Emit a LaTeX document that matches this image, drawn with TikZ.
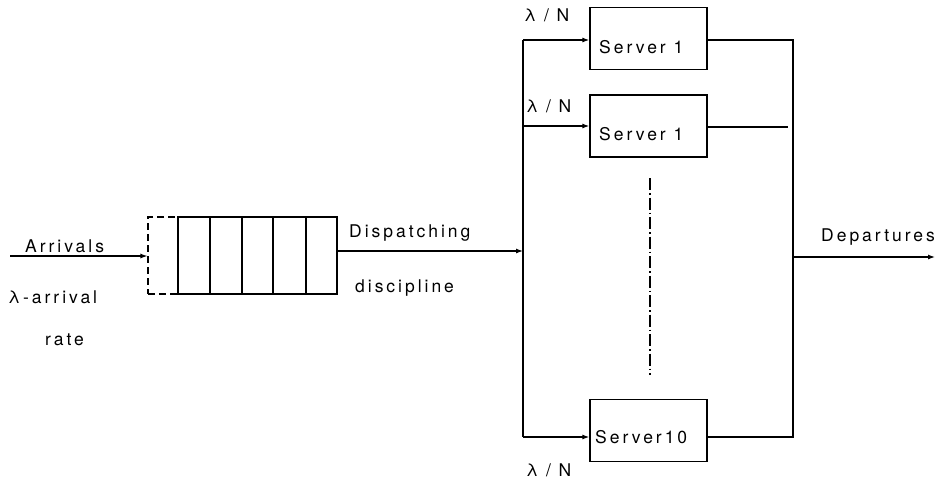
\documentclass[tikz,border=0pt]{standalone}
\usepackage{fontspec}
\setmainfont[LetterSpace=17]{TeX Gyre Heros}
\usetikzlibrary{arrows.meta}
\begin{document}
\begin{tikzpicture}[x=1pt,y=-1pt,
  every node/.style={font=\fontsize{17.5}{19}\selectfont},
  srv/.style={draw,line width=1.3pt,minimum width=117pt,minimum height=62pt,inner sep=0pt},
  wire/.style={line width=1.2pt},
  arr/.style={wire,-{Latex[length=7pt,width=5pt]}},
  lbl/.style={inner sep=0pt,anchor=west}]
\useasboundingbox (0,0) rectangle (936,479);
% queue
\node[draw,dash pattern=on 7pt off 4pt,line width=1.1pt,minimum width=30pt,minimum height=77pt,inner sep=0pt] (qd) at (163,255.5) {};
\node[draw,line width=1.3pt,minimum width=159pt,minimum height=77pt,inner sep=0pt] (q) at (257.5,255.5) {};
\foreach \x in {210,242,273,306}
  \draw[line width=1.3pt] (\x,217) -- (\x,294);
% servers
\node[srv] (s1) at (648.5,38.5) {};
\node[srv] (s2) at (648.5,126) {};
\node[srv] (s10) at (648.5,430.5) {};
\node[lbl] (t1) at (599,47) {Server 1};
\node[lbl] (t2) at (599,134) {Server 1};
\node[lbl] (t10) at (595,437) {Server10};
% coordinates
\coordinate (in) at (10,256);
\coordinate (bt) at (523,40);
\coordinate (bm) at (523,251);
\coordinate (bb) at (523,437);
\coordinate (rt) at (793,40);
\coordinate (rm) at (793,257);
\coordinate (rb) at (793,437);
\coordinate (s2o) at (788,127);
\coordinate (out) at (935,257);
\coordinate (dt) at (650,178);
\coordinate (db) at (650,375);
% wires
\draw[arr] (in) -- (qd.west |- in);
\draw[arr] (q.east |- bm) -- (bm);
\draw[wire] (bt) -- (bb);
\draw[arr] (bt) -- (s1.west |- bt);
\draw[arr] (bt |- s2.west) -- (s2.west);
\draw[arr] (bb) -- (s10.west |- bb);
\draw[wire] (s1.east |- rt) -- (rt) -- (rb) -- (s10.east |- rb);
\draw[wire] (s2.east |- s2o) -- (s2o);
\draw[arr] (rm) -- (out);
\draw[line width=1.1pt,dash pattern=on 12pt off 3pt on 1.5pt off 3pt] (dt) -- (db);
% labels
\node[lbl] (la) at (25,246) {Arrivals};
\node[lbl] (lr) at (8,297) {λ-arrival};
\node[lbl] (lt) at (45,340) {rate};
\node[lbl] (ld) at (349,233) {Dispatching};
\node[lbl] (ldc) at (355,288) {discipline};
\node[lbl] (n1) at (524,15) {λ / N};
\node[lbl] (n2) at (526,106) {λ / N};
\node[lbl] (n3) at (526,470) {λ / N};
\node[lbl] (dep) at (821,237) {Departures};
\end{tikzpicture}
\end{document}
